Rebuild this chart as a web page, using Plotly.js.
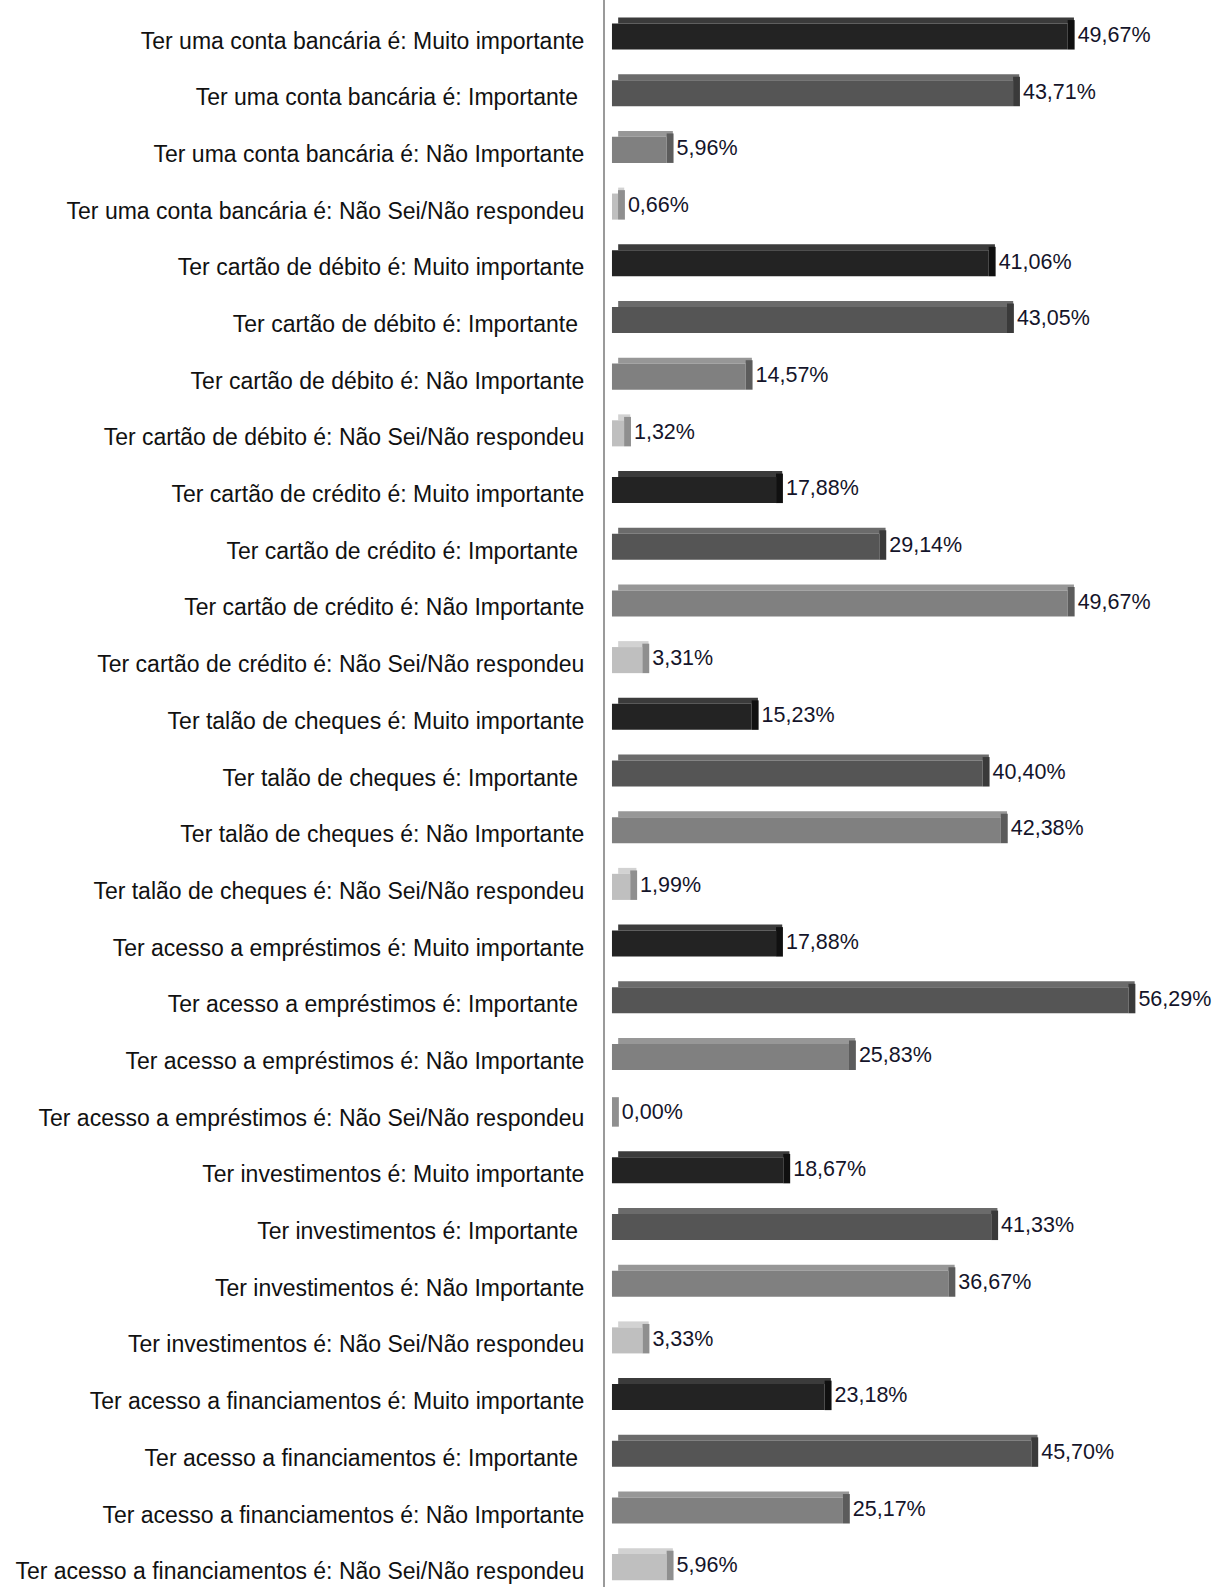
<!DOCTYPE html>
<html>
<head>
<meta charset="utf-8">
<script src="https://cdn.plot.ly/plotly-3.0.1.min.js"></script>
<style>html,body{margin:0;padding:0;background:#fff;}#chart{width:1213px;height:1587px;}</style>
</head>
<body>
<div id="chart"></div>
<script>
// ---- Data ----
const topics = [
  "Ter uma conta bancária",
  "Ter cartão de débito",
  "Ter cartão de crédito",
  "Ter talão de cheques",
  "Ter acesso a empréstimos",
  "Ter investimentos",
  "Ter acesso a financiamentos"
];
const responses = ["Muito importante", "Importante", "Não Importante", "Não Sei/Não respondeu"];
const muitoImportante = [49.67, 41.06, 17.88, 15.23, 17.88, 18.67, 23.18];
const importante      = [43.71, 43.05, 29.14, 40.40, 56.29, 41.33, 45.70];
const naoImportante   = [5.96, 14.57, 49.67, 42.38, 25.83, 36.67, 25.17];
const naoSei          = [0.66, 1.32, 3.31, 1.99, 0.00, 3.33, 5.96];
const seriesValues = [muitoImportante, importante, naoImportante, naoSei];

// ---- Styles ----
const frontColors = ['#232323', '#555555', '#808080', '#bfbfbf'];
const topColors   = ['#3b3b3b', '#6b6b6b', '#979797', '#d2d2d2'];
const sideColors  = ['#101010', '#3a3a3a', '#5c5c5c', '#8f8f8f'];
const depth = 0.75;

function label(topic, resp) {
  let s = topic + " é: " + resp;
  if (resp === "Importante") s += "\u00a0";
  return s;
}
const categoryOrder = [];
topics.forEach(t => responses.forEach(r => categoryOrder.push(label(t, r))));

const fmt = v => v.toFixed(2).replace('.', ',') + '%';

const traces = [];
responses.forEach((resp, si) => {
  const ys = topics.map(t => label(t, resp));
  const vals = seriesValues[si];
  // top face
  traces.push({
    type: 'bar', orientation: 'h', y: ys, x: vals, base: vals.map(() => depth * 0.9),
    width: 0.105, offset: -0.405,
    marker: {color: topColors[si], line: {width: 0}},
    hoverinfo: 'skip', showlegend: false
  });
  // front face
  traces.push({
    type: 'bar', orientation: 'h', y: ys, x: vals,
    width: 0.46, offset: -0.30,
    marker: {color: frontColors[si], line: {width: 0}},
    hoverinfo: 'skip', showlegend: false
  });
  // side face + value label
  traces.push({
    type: 'bar', orientation: 'h', y: ys, x: vals.map(() => depth), base: vals,
    width: 0.52, offset: -0.36,
    marker: {color: sideColors[si], line: {width: 0}},
    text: vals.map(fmt), textposition: 'outside', cliponaxis: false,
    textfont: {family: 'Liberation Sans, Arial, sans-serif', size: 21.5, color: '#14142a'},
    hoverinfo: 'skip', showlegend: false
  });
});

const layout = {
  width: 1213, height: 1587,
  margin: {l: 605, r: 0, t: 0, b: 0},
  paper_bgcolor: '#fff', plot_bgcolor: '#fff',
  barmode: 'overlay',
  showlegend: false,
  font: {family: 'Liberation Sans, Arial, sans-serif', size: 21, color: '#111'},
  xaxis: {range: [-0.76, 65.5], visible: false, showgrid: false, zeroline: false, fixedrange: true},
  yaxis: {
    type: 'category', categoryorder: 'array', categoryarray: categoryOrder,
    range: [27.28, -0.714],
    showline: true, linecolor: '#9a9a9a', linewidth: 2,
    showgrid: false, zeroline: false, ticks: '',
    ticklabelstandoff: 14,
    tickfont: {family: 'Liberation Sans, Arial, sans-serif', size: 23, color: '#111'}
  }
};

Plotly.newPlot('chart', traces, layout, {displayModeBar: false, staticPlot: true});
</script>
</body>
</html>
